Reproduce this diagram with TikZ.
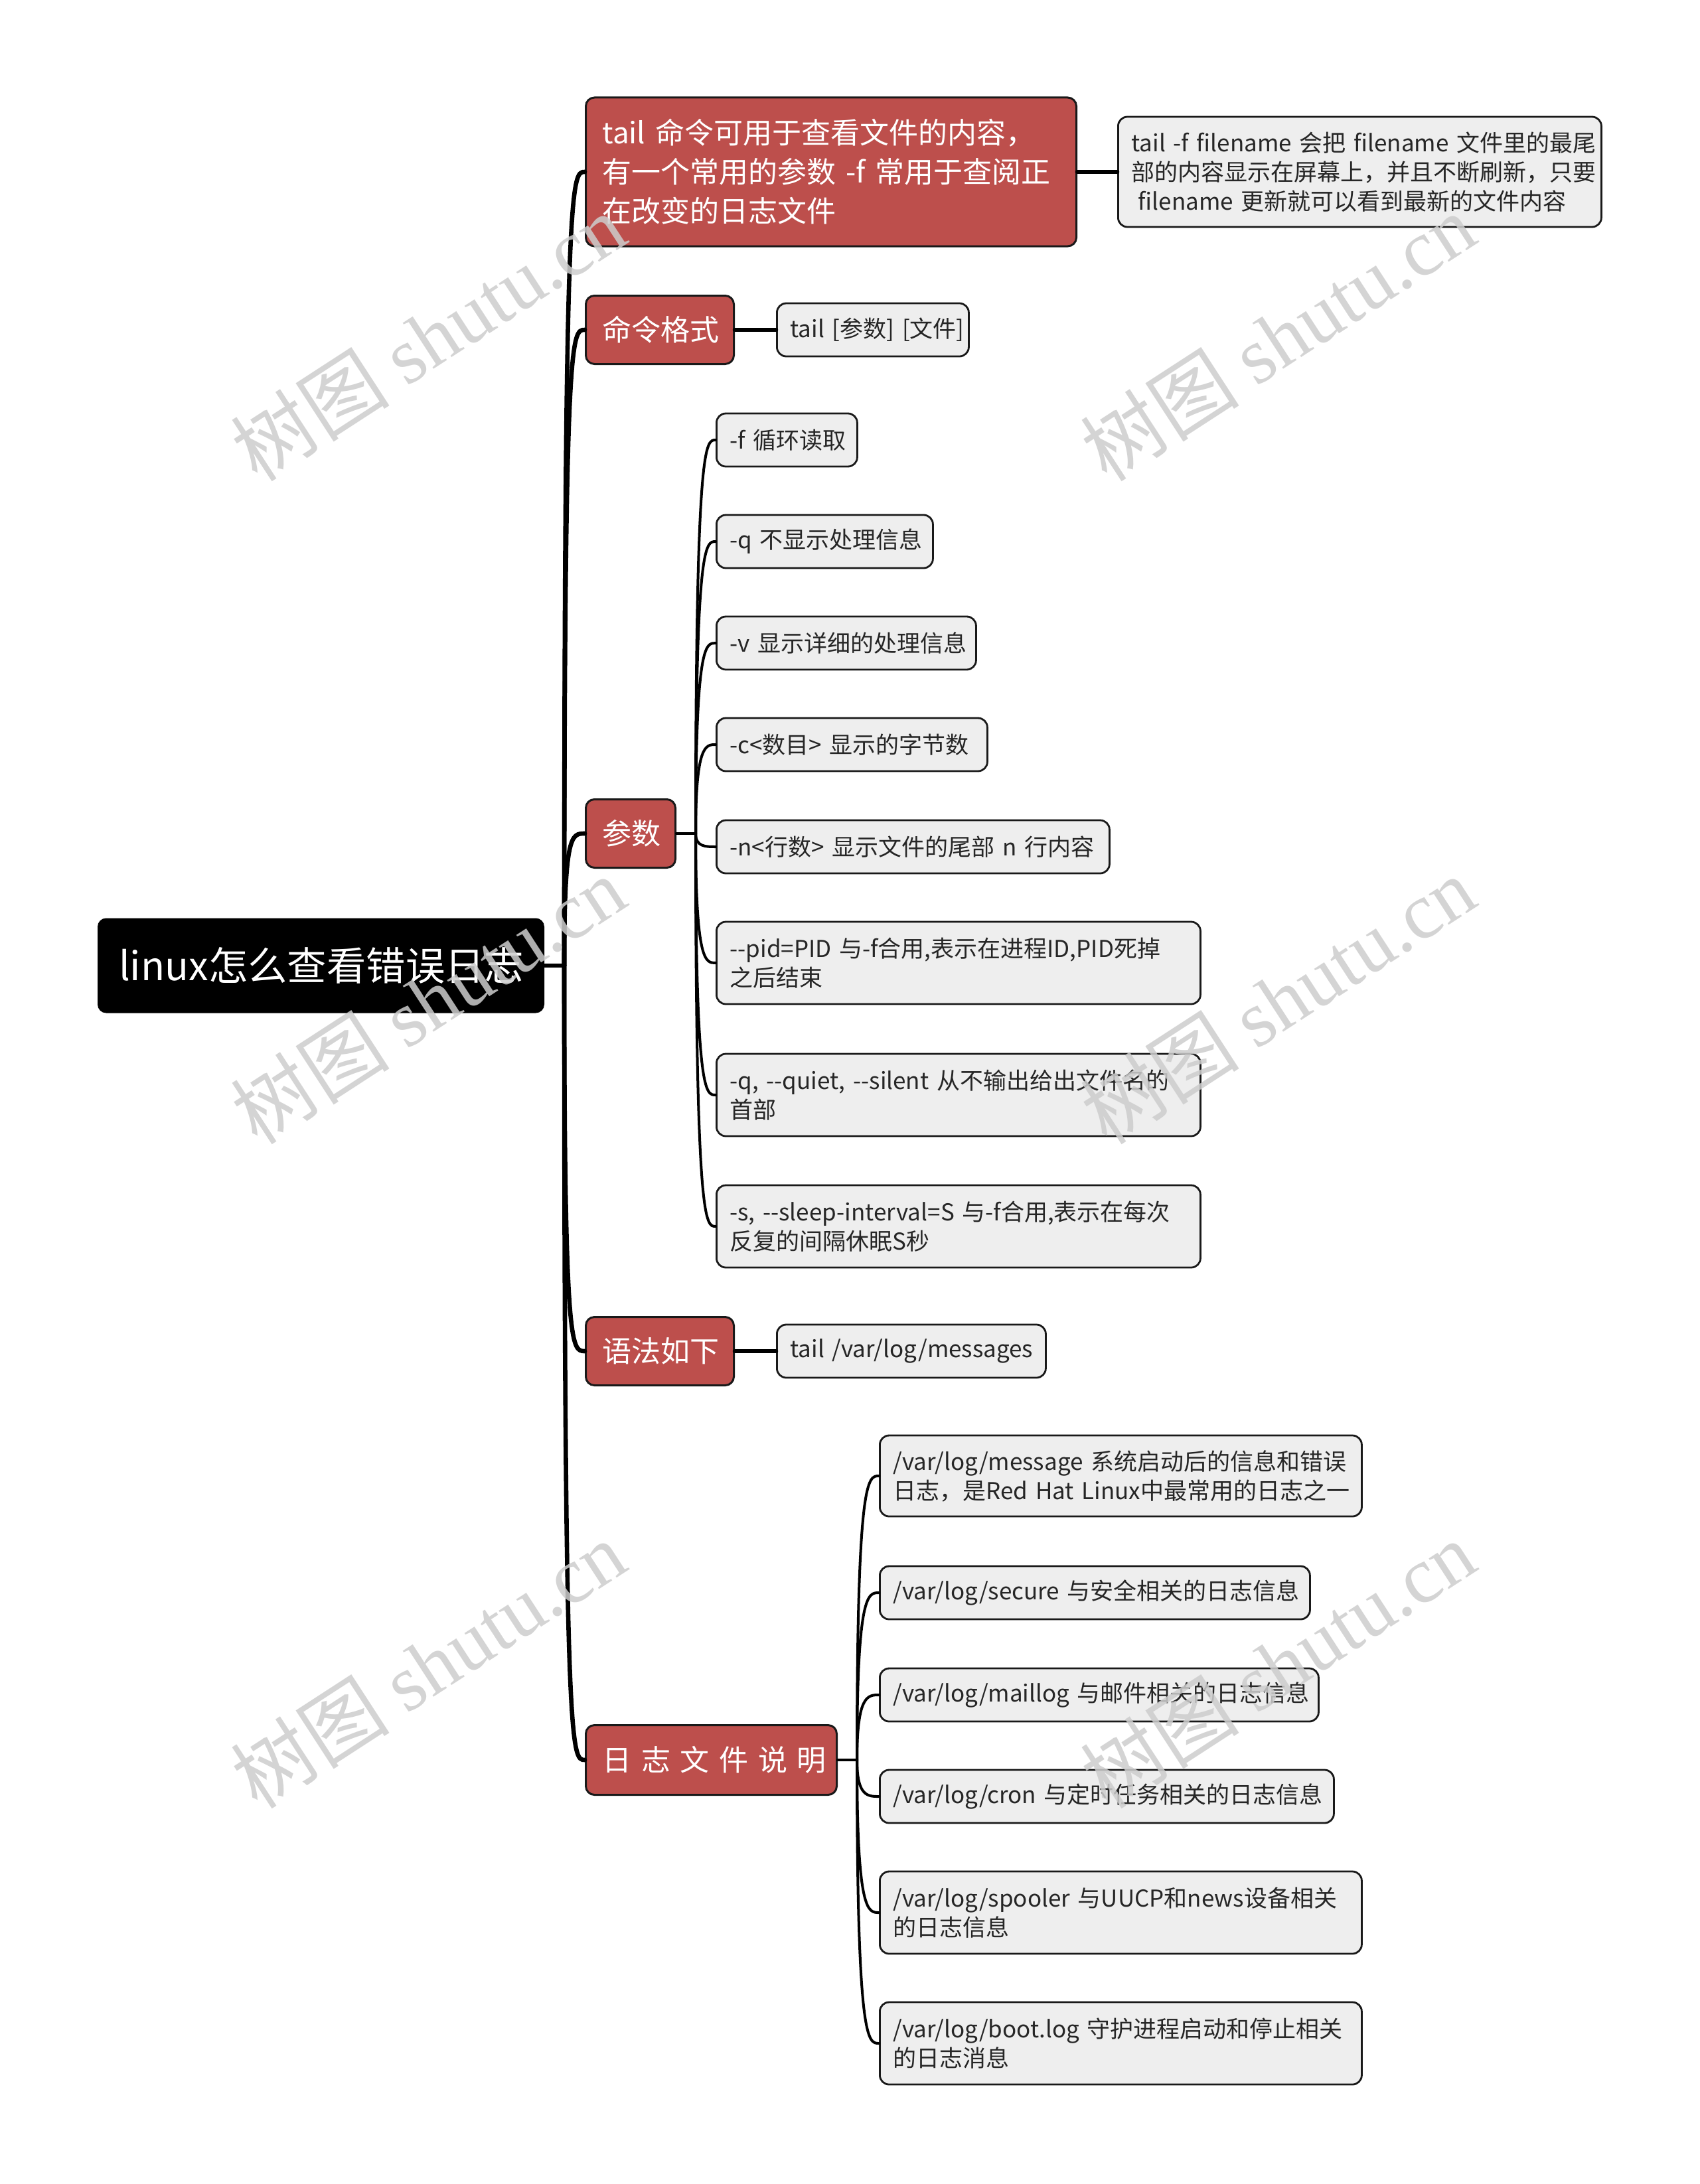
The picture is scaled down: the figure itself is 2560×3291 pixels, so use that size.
\documentclass[tikz,border=0pt]{standalone}
\usepackage{fontspec}
\setmainfont{Noto Sans CJK SC}
\newfontfamily\wmlat{Liberation Serif}
\usetikzlibrary{calc}
\definecolor{redfill}{RGB}{189,79,76}
\definecolor{greyfill}{RGB}{238,238,238}
\definecolor{edgecol}{RGB}{25,25,25}
\definecolor{wmcol}{RGB}{205,205,205}
\def\dd{-\kern0pt -}
\def\ml#1{\mbox{#1}}
\tikzset{
  rootbox/.style={draw=black, fill=black, rounded corners=6pt, line width=1pt, text=white, anchor=west, align=left, inner xsep=15.5pt, inner ysep=0pt, font=\fontsize{29.7}{36}\selectfont},
  redbox/.style={draw=edgecol, fill=redfill, rounded corners=6.5pt, line width=1.5pt, text=white, anchor=west, align=left, inner xsep=12.5pt, inner ysep=0pt, font=\fontsize{22}{29.5}\selectfont},
  greybox/.style={draw=edgecol, fill=greyfill, rounded corners=7pt, line width=1.4pt, text=black!85, anchor=west, align=left, inner xsep=10pt, inner ysep=0pt, font=\fontsize{17.5}{22}\selectfont},
  conn/.style={draw=black, line width=3.3pt, line cap=round},
  subconn/.style={draw=black, line width=2pt, line cap=round},
  wm/.style={text=wmcol, opacity=0.85, rotate=33, font=\fontsize{60}{66}\selectfont}
}
\begin{document}
\begin{tikzpicture}[x=0.5pt, y=-0.5pt]
\useasboundingbox[fill=white] (0,0) rectangle (2560,3291);

% root
\node[rootbox, text width=304.5pt, minimum height=70.5pt] (root) at (147,1455) {\ml{linux怎么查看错误日志}};

% level 1
\node[redbox, text width=344.5pt, minimum height=112pt] (r1) at (881,259) {\ml{tail 命令可用于查看文件的内容，}\\\ml{有一个常用的参数 -f 常用于查阅正}\\\ml{在改变的日志文件}};
\node[redbox, text width=86.5pt, minimum height=51.5pt] (r2) at (881,497) {\ml{命令格式}};
\node[redbox, text width=42.5pt, minimum height=51.5pt] (r3) at (881,1256) {\ml{参数}};
\node[redbox, text width=86.5pt, minimum height=51.5pt] (r4) at (881,2036) {\ml{语法如下}};
\node[redbox, text width=164pt, minimum height=52.5pt] (r5) at (881,2652) {\ml{日 志 文 件 说 明}};

% level 2
\node[greybox, text width=344pt, minimum height=83pt] (t1) at (1683,259) {\ml{tail -f filename 会把 filename 文件里的最尾}\\\ml{部的内容显示在屏幕上，并且不断刷新，只要}\\\ml{\hspace*{0.3em}filename 更新就可以看到最新的文件内容}};
\node[greybox, text width=124.5pt, minimum height=40pt] (cmd) at (1169,497) {\ml{tail [参数] [文件]}};

\node[greybox, text width=86pt, minimum height=40pt] (pa) at (1078,663) {\ml{-f 循环读取}};
\node[greybox, text width=143pt, minimum height=40pt] (pb) at (1078,816) {\ml{-q 不显示处理信息}};
\node[greybox, text width=175.5pt, minimum height=40pt] (pc) at (1078,969) {\ml{-v 显示详细的处理信息}};
\node[greybox, text width=184pt, minimum height=40pt] (pd) at (1078,1122) {\ml{-c<数目> 显示的字节数}};
\node[greybox, text width=276pt, minimum height=40pt] (pe) at (1078,1276) {\ml{-n<行数> 显示文件的尾部 n 行内容}};
\node[greybox, text width=344.5pt, minimum height=62pt] (pf) at (1078,1451) {\ml{\dd pid=PID 与-f合用,表示在进程ID,PID死掉}\\\ml{之后结束}};
\node[greybox, text width=344.5pt, minimum height=62pt] (pg) at (1078,1650) {\ml{-q, \dd quiet, \dd silent 从不输出给出文件名的}\\\ml{首部}};
\node[greybox, text width=344.5pt, minimum height=62pt] (ph) at (1078,1848) {\ml{-s, \dd sleep-interval=S 与-f合用,表示在每次}\\\ml{反复的间隔休眠S秒}};

\node[greybox, text width=182.5pt, minimum height=40pt] (syn) at (1169,2036) {\ml{tail /var/log/messages}};

\node[greybox, text width=343pt, minimum height=61pt] (la) at (1324,2224) {\ml{/var/log/message 系统启动后的信息和错误}\\\ml{日志，是Red Hat Linux中最常用的日志之一}};
\node[greybox, text width=304pt, minimum height=40pt] (lb) at (1324,2400) {\ml{/var/log/secure 与安全相关的日志信息}};
\node[greybox, text width=310.5pt, minimum height=40pt] (lc) at (1324,2554) {\ml{/var/log/maillog 与邮件相关的日志信息}};
\node[greybox, text width=322pt, minimum height=40pt] (ld) at (1324,2707) {\ml{/var/log/cron 与定时任务相关的日志信息}};
\node[greybox, text width=343pt, minimum height=62pt] (le) at (1324,2882) {\ml{/var/log/spooler 与UUCP和news设备相关}\\\ml{的日志信息}};
\node[greybox, text width=343pt, minimum height=62pt] (lf) at (1324,3079) {\ml{/var/log/boot.log 守护进程启动和停止相关}\\\ml{的日志消息}};

% junctions
\coordinate (J0) at (850,1455);
\coordinate (J3) at (1048,1256);
\coordinate (J5) at (1291,2652);

% trunk connectors
\draw[conn] (root.east) -- (J0);
\foreach \n in {r1,r2,r3,r4,r5}
  \draw[conn] (J0) .. controls (J0 |- \n.west) and ($(J0 |- \n.west)!0.35!(\n.west)$) .. (\n.west);

% single children
\draw[conn] (r1.east) -- (t1.west);
\draw[conn] (r2.east) -- (cmd.west);
\draw[conn] (r4.east) -- (syn.west);

% parameter group
\draw[subconn] (r3.east) -- (J3);
\foreach \n in {pa,pb,pc,pd,pe,pf,pg,ph}
  \draw[subconn] (J3) .. controls (J3 |- \n.west) and ($(J3 |- \n.west)!0.5!(\n.west)$) .. (\n.west);

% log files group
\draw[subconn] (r5.east) -- (J5);
\foreach \n in {la,lb,lc,ld,le,lf}
  \draw[subconn] (J5) .. controls (J5 |- \n.west) and ($(J5 |- \n.west)!0.5!(\n.west)$) .. (\n.west);

% watermarks
\node[wm] (w1) at (645,508) {树图 {\wmlat shutu.cn}};
\node[wm] (w2) at (1925,508) {树图 {\wmlat shutu.cn}};
\node[wm] (w3) at (645,1507) {树图 {\wmlat shutu.cn}};
\node[wm] (w4) at (1925,1507) {树图 {\wmlat shutu.cn}};
\node[wm] (w5) at (645,2508) {树图 {\wmlat shutu.cn}};
\node[wm] (w6) at (1925,2508) {树图 {\wmlat shutu.cn}};
\end{tikzpicture}
\end{document}
